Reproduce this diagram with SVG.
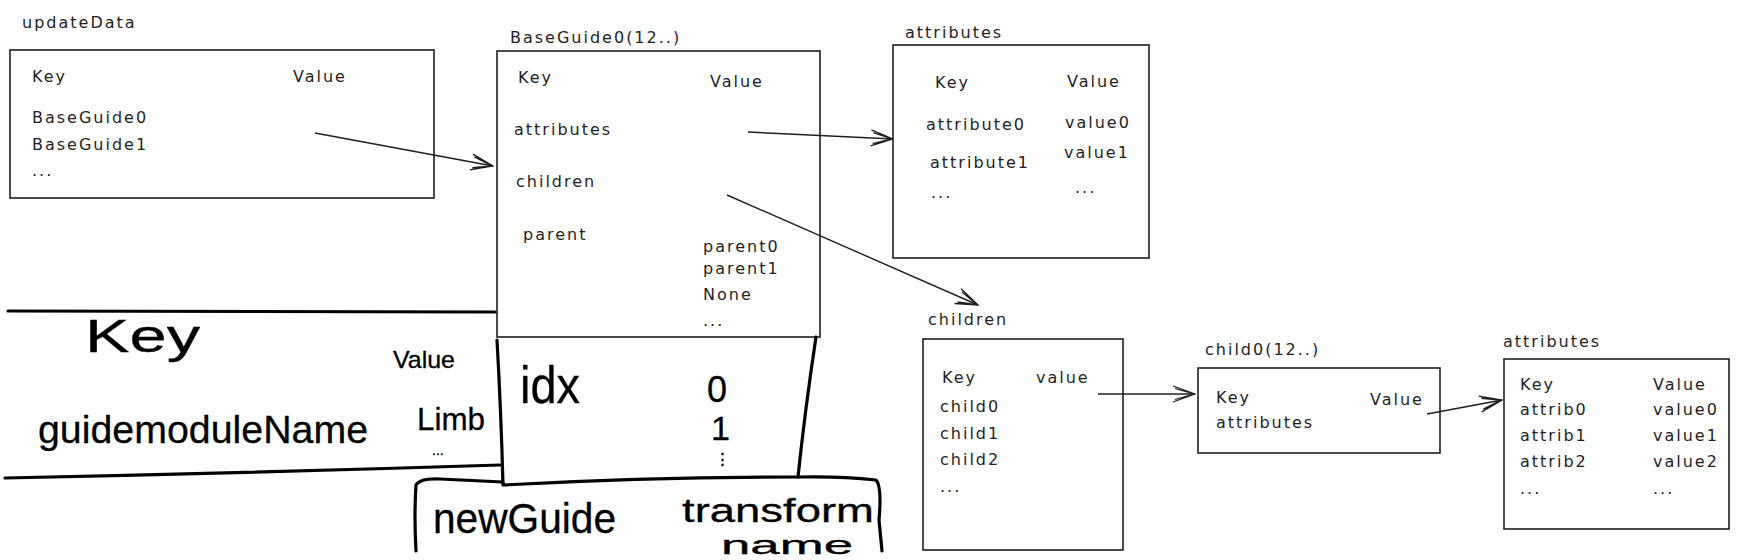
<svg xmlns="http://www.w3.org/2000/svg" width="1740" height="560" viewBox="0 0 1740 560">
<style>
.t{font-family:"DejaVu Sans",sans-serif;font-size:16px;letter-spacing:2px;fill:#1e1e1e}
.box{fill:none;stroke:#1e1e1e;stroke-width:1.6}
.conn{fill:none;stroke:#1e1e1e;stroke-width:1.4}
.hand{fill:none;stroke:#000;stroke-width:3.2;stroke-linecap:round;stroke-linejoin:round}
.h{font-family:"Liberation Sans",sans-serif;fill:#000;stroke:#000;stroke-width:0.3}
</style>
<defs>
<marker id="arr" viewBox="0 0 24 18" refX="23" refY="9" markerWidth="24" markerHeight="18" markerUnits="userSpaceOnUse" orient="auto">
<path d="M1,1 L23,9 L1,17 M3,3.5 L22,9 L3,14.5" fill="none" stroke="#1e1e1e" stroke-width="1.3"/>
</marker>
</defs>

<g id="updateData">
<text class="t" x="22" y="28">updateData</text>
<rect class="box" x="10" y="50" width="424" height="148"/>
<text class="t" x="32" y="82">Key</text>
<text class="t" x="293" y="82">Value</text>
<text class="t" x="32" y="123">BaseGuide0</text>
<text class="t" x="32" y="150">BaseGuide1</text>
<text class="t" x="32" y="176">...</text>
</g>

<g id="baseGuide0">
<text class="t" x="510" y="43">BaseGuide0(12..)</text>
<rect class="box" x="497" y="51" width="323" height="286"/>
<text class="t" x="518" y="83">Key</text>
<text class="t" x="710" y="87">Value</text>
<text class="t" x="514" y="135">attributes</text>
<text class="t" x="516" y="187">children</text>
<text class="t" x="523" y="240">parent</text>
<text class="t" x="703" y="252">parent0</text>
<text class="t" x="703" y="274">parent1</text>
<text class="t" x="703" y="300">None</text>
<text class="t" x="703" y="326">...</text>
</g>

<g id="attributesTop">
<text class="t" x="905" y="38">attributes</text>
<rect class="box" x="893" y="45" width="256" height="213"/>
<text class="t" x="935" y="88">Key</text>
<text class="t" x="1067" y="87">Value</text>
<text class="t" x="926" y="130">attribute0</text>
<text class="t" x="1065" y="128">value0</text>
<text class="t" x="930" y="168">attribute1</text>
<text class="t" x="1064" y="158">value1</text>
<text class="t" x="931" y="198">...</text>
<text class="t" x="1075" y="193">...</text>
</g>

<g id="children">
<text class="t" x="928" y="325">children</text>
<rect class="box" x="923" y="339" width="200" height="211"/>
<text class="t" x="942" y="383">Key</text>
<text class="t" x="1036" y="383">value</text>
<text class="t" x="940" y="412">child0</text>
<text class="t" x="940" y="439">child1</text>
<text class="t" x="940" y="465">child2</text>
<text class="t" x="940" y="492">...</text>
</g>

<g id="child0">
<text class="t" x="1205" y="355">child0(12..)</text>
<rect class="box" x="1198" y="368" width="242" height="85"/>
<text class="t" x="1216" y="403">Key</text>
<text class="t" x="1370" y="405">Value</text>
<text class="t" x="1216" y="428">attributes</text>
</g>

<g id="attributesBottom">
<text class="t" x="1503" y="347">attributes</text>
<rect class="box" x="1504" y="359" width="225" height="170"/>
<text class="t" x="1520" y="390">Key</text>
<text class="t" x="1653" y="390">Value</text>
<text class="t" x="1520" y="415">attrib0</text>
<text class="t" x="1653" y="415">value0</text>
<text class="t" x="1520" y="441">attrib1</text>
<text class="t" x="1653" y="441">value1</text>
<text class="t" x="1520" y="467">attrib2</text>
<text class="t" x="1653" y="467">value2</text>
<text class="t" x="1520" y="494">...</text>
<text class="t" x="1653" y="494">...</text>
</g>

<g id="connectors">
<path class="conn" d="M315,133 L493,166" marker-end="url(#arr)"/>
<path class="conn" d="M748,132 L893,139" marker-end="url(#arr)"/>
<path class="conn" d="M727,195 L978,305" marker-end="url(#arr)"/>
<path class="conn" d="M1098,394 L1195,394" marker-end="url(#arr)"/>
<path class="conn" d="M1427,414 L1502,400" marker-end="url(#arr)"/>
</g>

<g id="handTable">
<path class="hand" d="M8,311 L495,312"/>
<path class="hand" d="M5,478 Q250,473 500,465"/>
<text class="h" x="85" y="352" font-size="46" textLength="115" lengthAdjust="spacingAndGlyphs">Key</text>
<text class="h" x="38" y="443" font-size="39" textLength="330" lengthAdjust="spacingAndGlyphs">guidemoduleName</text>
<text class="h" x="393" y="368" font-size="24" textLength="62" lengthAdjust="spacingAndGlyphs">Value</text>
<text class="h" x="417" y="430" font-size="32" textLength="68" lengthAdjust="spacingAndGlyphs">Limb</text>
<text class="h" x="432" y="455" font-size="14">...</text>
</g>

<g id="idxBox">
<path class="hand" d="M497,340 Q501,410 503,485 Q650,477 798,477 Q805,410 816,337"/>
<text class="h" x="520" y="403" font-size="52" textLength="60" lengthAdjust="spacingAndGlyphs">idx</text>
<text class="h" x="707" y="402" font-size="36">0</text>
<text class="h" x="711" y="440" font-size="34">1</text>
<text class="h" x="714" y="465" font-size="17">⋮</text>
</g>

<g id="newGuideBox">
<path class="hand" d="M416,551 Q414,515 416,485 Q420,478 440,479 L503,482"/>
<path class="hand" d="M798,477 Q840,476 876,480 Q882,486 879,520 L882,551"/>
<text class="h" x="433" y="533" font-size="42" textLength="183" lengthAdjust="spacingAndGlyphs">newGuide</text>
<text class="h" x="682" y="522" font-size="34" textLength="192" lengthAdjust="spacingAndGlyphs">transform</text>
<text class="h" x="721" y="554" font-size="26" textLength="132" lengthAdjust="spacingAndGlyphs">name</text>
</g>
</svg>
